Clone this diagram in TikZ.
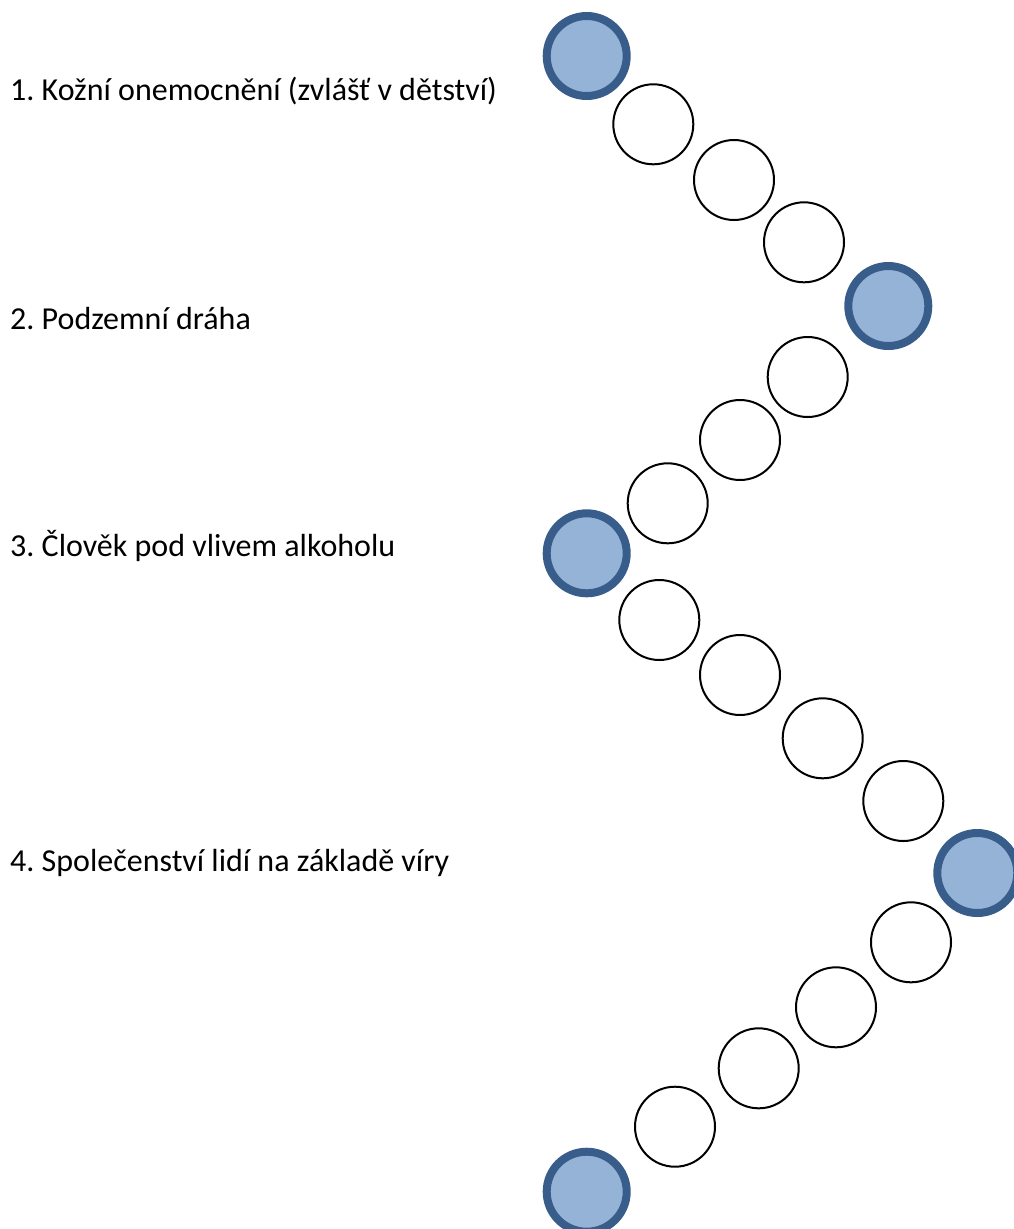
\documentclass[tikz,border=0pt]{standalone}
\usepackage{fontspec}
\setmainfont{Carlito}
\frenchspacing
\definecolor{ringblue}{HTML}{385D8A}
\definecolor{fillblue}{HTML}{95B3D7}
\begin{document}
\begin{tikzpicture}[x=1pt,y=-1pt,
  bigdot/.style={circle,draw=ringblue,fill=fillblue,line width=8pt,minimum size=80pt,inner sep=0pt},
  ring/.style={circle,draw=black,line width=2pt,minimum size=80pt,inner sep=0pt},
  label/.style={anchor=base west,inner sep=0pt,font=\fontsize{32}{38}\selectfont}]
\useasboundingbox (0,0) rectangle (1014,1229);
% texts
\node[label] (t1) at (10,100.5) {1. Kožní onemocnění (zvlášť v dětství)};
\node[label] (t2) at (10,329) {2. Podzemní dráha};
\node[label] (t3) at (10,556.5) {3. Člověk pod vlivem alkoholu};
\node[label] (t4) at (10,871.5) {4. Společenství lidí na základě víry};
% blue dots
\node[bigdot] (b1) at (586.7,56) {};
\node[bigdot] (b2) at (888.3,306) {};
\node[bigdot] (b3) at (586.7,553.3) {};
\node[bigdot] (b4) at (977.3,873) {};
\node[bigdot] (b5) at (586.7,1191.7) {};
% white rings
\node[ring] (w1) at (653.3,124.3) {};
\node[ring] (w2) at (734,180) {};
\node[ring] (w3) at (804,242.3) {};
\node[ring] (w4) at (807.7,377) {};
\node[ring] (w5) at (740,440) {};
\node[ring] (w6) at (667.7,503.3) {};
\node[ring] (w7) at (659.3,620) {};
\node[ring] (w8) at (740,675) {};
\node[ring] (w9) at (822.7,738.3) {};
\node[ring] (w10) at (903.3,801) {};
\node[ring] (w11) at (911,942.3) {};
\node[ring] (w12) at (836,1007.3) {};
\node[ring] (w13) at (758.7,1068.3) {};
\node[ring] (w14) at (675,1126.7) {};
\end{tikzpicture}
\end{document}
